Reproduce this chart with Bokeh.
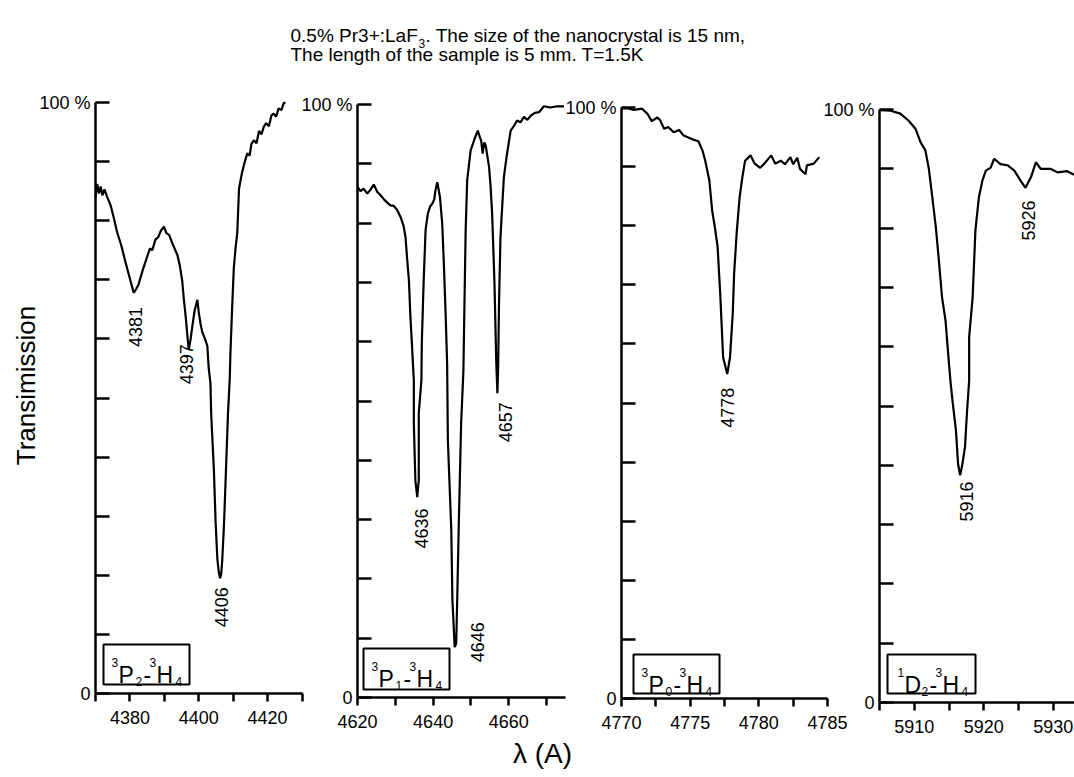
import math
from bokeh.plotting import figure
from bokeh.models import Range1d, LinearAxis, FixedTicker
from bokeh.embed import file_html
from bokeh.resources import INLINE
from bokeh.core.properties import value

FONT = "Liberation Sans"
W, H = 1074, 777

# ---------------- data ----------------
p1_x = [4370.0, 4370.5, 4371.0, 4371.5, 4372.0, 4372.6, 4373.4, 4374.4, 4375.3, 4376.3,
        4377.5, 4378.7, 4379.9, 4381.1, 4381.8, 4382.5, 4383.7, 4385.0, 4385.8, 4386.5,
        4387.4, 4388.2, 4389.0, 4389.9, 4390.6, 4391.4, 4392.3, 4393.8, 4394.5, 4395.2,
        4395.7, 4396.2, 4396.7, 4397.1, 4397.6, 4398.1, 4398.8, 4399.6, 4400.0, 4400.5,
        4401.0, 4401.8, 4402.5, 4402.9, 4403.4, 4403.6, 4404.0, 4404.4, 4404.9, 4405.4,
        4405.8, 4406.2, 4406.5, 4406.8, 4407.3, 4407.8, 4408.5, 4409.0, 4409.2, 4409.7,
        4410.2, 4410.7, 4411.2, 4411.7, 4412.2, 4412.6, 4413.3, 4414.1, 4414.8, 4415.3,
        4416.0, 4416.8, 4417.5, 4418.2, 4418.9, 4419.6, 4420.4, 4421.1, 4421.8, 4422.5,
        4423.2, 4424.0, 4424.7, 4425.2]
p1_y = [84.0, 86.2, 84.6, 85.8, 84.3, 85.3, 84.0, 82.6, 80.5, 78.0,
        75.8, 73.0, 70.4, 67.8, 68.4, 69.2, 71.6, 73.9, 75.3, 75.0,
        76.8, 77.2, 78.3, 79.0, 77.9, 77.6, 76.2, 74.2, 72.4, 69.8,
        66.5, 63.8, 60.5, 58.2, 59.8, 62.0, 64.8, 66.6, 64.5, 62.6,
        61.2, 60.0, 58.8, 55.0, 52.5, 47.5, 42.6, 37.8, 29.0, 22.8,
        20.6, 19.5, 20.1, 22.3, 28.1, 36.0, 47.4, 53.2, 57.5, 65.3,
        72.1, 75.4, 78.0, 85.4, 87.0, 88.2, 89.8, 91.4, 91.0, 93.0,
        93.6, 93.1, 95.2, 94.6, 95.9, 96.5, 96.0, 97.8, 98.1, 97.6,
        99.0, 98.7, 99.9, 100.0]

p2_x = [4620.0, 4620.8, 4621.6, 4622.6, 4623.4, 4624.3, 4625.2, 4626.1, 4627.0, 4627.8,
        4628.7, 4629.6, 4630.5, 4631.4, 4632.2, 4632.7, 4633.1, 4633.6, 4634.0, 4634.4,
        4634.7, 4634.9, 4634.9, 4635.3, 4635.8, 4636.2, 4636.2, 4636.9, 4637.0, 4637.5,
        4638.0, 4638.6, 4639.2, 4639.8, 4640.3, 4640.6, 4641.1, 4641.5, 4641.8, 4642.4,
        4642.8, 4643.3, 4643.7, 4643.9, 4644.8, 4645.1, 4645.7, 4646.1, 4646.4, 4646.8,
        4647.4, 4648.0, 4648.2, 4648.6, 4649.0, 4649.9, 4651.0, 4651.8, 4652.4, 4652.7,
        4653.1, 4653.5, 4653.9, 4654.8, 4655.2, 4655.6, 4656.2, 4656.7, 4657.0, 4657.2,
        4657.4, 4657.8, 4658.7, 4659.4, 4660.5, 4661.3, 4662.2, 4663.1, 4664.0, 4664.9,
        4665.8, 4666.9, 4668.0, 4669.3, 4671.0, 4672.8, 4674.6]
p2_y = [86.1, 85.4, 85.8, 85.0, 85.6, 86.5, 85.3, 84.7, 84.0, 83.5,
        83.0, 82.9, 82.2, 81.0, 79.5, 77.6, 74.2, 70.3, 64.1, 59.5,
        55.7, 53.5, 46.2, 36.6, 33.8, 36.6, 47.9, 53.5, 59.7, 70.3,
        78.8, 81.6, 82.8, 83.3, 84.0, 85.5, 86.9, 85.5, 84.4, 79.9,
        73.7, 64.7, 56.3, 43.3, 28.2, 16.4, 8.5, 9.1, 17.5, 29.8,
        46.2, 55.0, 63.1, 78.8, 87.2, 92.2, 94.3, 95.6, 94.4, 93.9,
        91.7, 93.6, 93.1, 89.4, 86.1, 81.6, 70.3, 56.3, 51.3, 56.0,
        65.8, 77.6, 87.7, 91.1, 95.6, 96.3, 97.3, 97.0, 97.9, 97.4,
        98.1, 98.6, 98.7, 99.7, 99.5, 99.7, 99.7]

p3_x = [4770.0, 4770.4, 4770.9, 4771.5, 4771.9, 4772.2, 4772.6, 4772.8, 4773.1, 4773.4,
        4773.8, 4774.2, 4774.5, 4774.9, 4775.3, 4775.6, 4775.9, 4776.1, 4776.4, 4776.6,
        4776.8, 4777.0, 4777.2, 4777.4, 4777.7, 4777.9, 4778.1, 4778.2, 4778.4, 4778.6,
        4778.8, 4779.0, 4779.4, 4779.7, 4780.1, 4780.4, 4780.9, 4781.2, 4781.6, 4781.9,
        4782.3, 4782.5, 4782.8, 4783.0, 4783.4, 4783.5, 4784.0, 4784.4]
p3_y = [99.8, 99.9, 99.6, 99.8, 98.9, 97.7, 98.3, 97.9, 96.4, 96.7,
        95.8, 96.2, 95.3, 94.9, 94.5, 94.3, 92.7, 91.0, 87.6, 82.6,
        79.7, 76.4, 67.9, 57.7, 54.9, 57.7, 65.1, 71.9, 79.2, 84.8,
        88.2, 91.0, 91.9, 90.5, 89.8, 90.5, 91.9, 90.5, 91.0, 90.4,
        91.6, 90.4, 91.5, 89.6, 88.7, 90.2, 90.5, 91.6]

p4_x = [5905.1, 5906.6, 5908.0, 5909.2, 5910.2, 5910.9, 5911.6, 5912.1, 5912.6, 5913.1,
        5913.5, 5914.0, 5914.5, 5915.0, 5915.2, 5915.5, 5916.0, 5916.3, 5916.6, 5916.9,
        5917.3, 5917.6, 5917.9, 5917.9, 5918.4, 5918.8, 5919.3, 5919.8, 5920.3, 5921.0,
        5921.5, 5922.4, 5923.4, 5924.4, 5925.3, 5926.0, 5926.8, 5927.5, 5928.2, 5929.6,
        5930.6, 5932.0, 5933.0]
p4_y = [99.9, 99.8, 99.3, 98.1, 96.7, 94.5, 93.1, 90.0, 85.2, 80.2,
        75.1, 68.3, 64.4, 57.1, 54.3, 50.9, 45.9, 40.3, 38.3, 40.0,
        43.1, 49.2, 54.3, 61.6, 68.3, 79.6, 85.2, 88.0, 89.7, 90.2,
        91.7, 90.8, 90.6, 89.7, 88.0, 86.8, 88.6, 91.1, 90.0, 90.0,
        89.4, 89.6, 89.0]

# peak labels
p1_peaks = ["4381", "4397", "4406"]
p1_peak_x = [4381.6, 4396.5, 4406.6]
p1_peak_y = [62.0, 55.7, 14.6]
p2_peaks = ["4636", "4646", "4657"]
p2_peak_x = [4636.9, 4651.7, 4659.2]
p2_peak_y = [28.5, 9.3, 46.4]
p3_peaks = ["4778"]
p3_peak_x = [4777.7]
p3_peak_y = [49.2]
p4_peaks = ["5916", "5926"]
p4_peak_x = [5917.5, 5926.4]
p4_peak_y = [33.9, 81.3]

# axis ticks
p1_major = [4380, 4400, 4420]
p1_minor = [4370, 4390, 4410, 4430]
p2_major = [4620, 4640, 4660]
p2_minor = [4630, 4650, 4670]
p3_major = [4770, 4775, 4780, 4785]
p3_minor = [4772.5, 4777.5, 4782.5]
p4_major = [5910, 5920, 5930]
p4_minor = [5905, 5915, 5925]
y_minor = [10, 20, 30, 40, 50, 60, 70, 80, 90]

# transition labels (sup, main, sub, sup2, main2, sub2)
transitions = [("3", "P", "2", "3", "H", "4"),
               ("3", "P", "1", "3", "H", "4"),
               ("3", "P", "0", "3", "H", "4"),
               ("1", "D", "2", "3", "H", "4")]

title_1a = "0.5% Pr3+:LaF"
title_1sub = "3"
title_1b = ". The size of the nanocrystal is 15 nm,"
title_2 = "The length of the sample is 5 mm. T=1.5K"
y_title = "Transimission"
x_title = "\u03bb (A)"

# ---------------- layout (screen pixels) ----------------
# (x0, x1, px0, px1, ytop, ybot)
panels = [
    (4370, 4430, 95, 301.5, 102, 693),
    (4620, 4675, 357, 565, 104, 697),
    (4770, 4785, 621, 827, 107, 698),
    (5905, 5933.2, 879, 1075, 109, 702),
]
boxes = [(103, 644, 86, 40), (363, 648, 86, 41), (633, 654, 86, 39), (887, 654, 88, 39)]

p = figure(width=W, height=H, output_backend="svg", toolbar_location=None,
           x_range=Range1d(0, W), y_range=Range1d(H, 0),
           x_axis_type=None, y_axis_type=None, title=None,
           min_border=0, min_border_left=0, min_border_right=0,
           min_border_top=0, min_border_bottom=0)
p.outline_line_color = None
p.background_fill_color = "white"
p.border_fill_color = "white"

datasets = [(p1_x, p1_y, p1_peaks, p1_peak_x, p1_peak_y, p1_major, p1_minor),
            (p2_x, p2_y, p2_peaks, p2_peak_x, p2_peak_y, p2_major, p2_minor),
            (p3_x, p3_y, p3_peaks, p3_peak_x, p3_peak_y, p3_major, p3_minor),
            (p4_x, p4_y, p4_peaks, p4_peak_x, p4_peak_y, p4_major, p4_minor)]

for i, ((x0, x1, px0, px1, ytop, ybot), (xs, ys, pk, pkx, pky, major, minor)) in enumerate(zip(panels, datasets)):
    rx, ry = f"x{i}", f"y{i}"
    sx = (x1 - x0) / (px1 - px0)
    p.extra_x_ranges[rx] = Range1d(x0 - px0 * sx, x0 + (W - px0) * sx)
    sy = 100.0 / (ybot - ytop)
    p.extra_y_ranges[ry] = Range1d(0 - (H - ybot) * sy, 100 + ytop * sy)

    xa = LinearAxis(x_range_name=rx, y_range_name=ry, fixed_location=0,
                    bounds=(x0, min(x1, x0 + (W - px0) * sx)),
                    ticker=FixedTicker(ticks=major, minor_ticks=minor),
                    major_tick_in=0, major_tick_out=8, minor_tick_in=0, minor_tick_out=8,
                    axis_line_width=2.5, major_tick_line_width=2.5, minor_tick_line_width=2.5,
                    axis_line_color="black", major_tick_line_color="black",
                    minor_tick_line_color="black",
                    major_label_text_font=FONT, major_label_text_font_size="18px",
                    major_label_text_color="black", major_label_standoff=9)
    p.add_layout(xa, "below")

    ya = LinearAxis(x_range_name=rx, y_range_name=ry, fixed_location=x0,
                    bounds=(0, 100),
                    ticker=FixedTicker(ticks=[0, 100], minor_ticks=y_minor),
                    major_tick_in=14, major_tick_out=0, minor_tick_in=14, minor_tick_out=0,
                    axis_line_width=2.5, major_tick_line_width=2.5, minor_tick_line_width=2.5,
                    axis_line_color="black", major_tick_line_color="black",
                    minor_tick_line_color="black",
                    major_label_overrides={0: "0", 100: "100 %"},
                    major_label_text_font=FONT, major_label_text_font_size="18px",
                    major_label_text_color="black", major_label_standoff=5,
                    major_label_orientation="horizontal")
    p.add_layout(ya, "left")

    p.line(xs, ys, x_range_name=rx, y_range_name=ry, line_color="black", line_width=2.2)
    p.text(x=pkx, y=pky, text=pk, x_range_name=rx, y_range_name=ry, angle=math.pi / 2,
           text_align="center", text_baseline="middle", text_color="black",
           text_font=value(FONT), text_font_size="18px")

# transition boxes
for (bx, by, bw, bh), (s1, m1, b1, s2, m2, b2) in zip(boxes, transitions):
    p.quad(left=[bx], right=[bx + bw], top=[by], bottom=[by + bh],
           fill_color="white", line_color="black", line_width=2)
    d = 2 if m1 == "D" else 0
    p.text(x=[bx + 15 + d, bx + 40 + d, bx + 53 + d],
           y=[by + 30, by + 30, by + 30], text=[m1, "-", m2],
           text_align="left", text_baseline="alphabetic", text_color="black",
           text_font=value(FONT), text_font_size="23px")
    p.text(x=[bx + 8 + d, bx + 46 + d], y=[by + 18, by + 18], text=[s1, s2],
           text_align="left", text_baseline="alphabetic", text_color="black",
           text_font=value(FONT), text_font_size="12px")
    p.text(x=[bx + 32 + d, bx + 72 + d], y=[by + 37, by + 37], text=[b1, b2],
           text_align="left", text_baseline="alphabetic", text_color="black",
           text_font=value(FONT), text_font_size="12px")

# title
p.text(x=[290], y=[35], text=[title_1a], text_align="left", text_baseline="alphabetic",
       text_color="black", text_font=value(FONT), text_font_size="19px")
p.text(x=[418], y=[43], text=[title_1sub], text_align="left", text_baseline="alphabetic",
       text_color="black", text_font=value(FONT), text_font_size="12px")
p.text(x=[425], y=[35], text=[title_1b], text_align="left", text_baseline="alphabetic",
       text_color="black", text_font=value(FONT), text_font_size="19px")
p.text(x=[290], y=[54], text=[title_2], text_align="left", text_baseline="alphabetic",
       text_color="black", text_font=value(FONT), text_font_size="19px")

# axis titles
p.text(x=[25], y=[385], text=[y_title], angle=math.pi / 2, text_align="center",
       text_baseline="middle", text_color="black", text_font=value(FONT), text_font_size="26px")
p.text(x=[542], y=[753], text=[x_title], text_align="center", text_baseline="middle",
       text_color="black", text_font=value(FONT), text_font_size="28px")

open("out.html", "w").write(file_html(p, INLINE))
